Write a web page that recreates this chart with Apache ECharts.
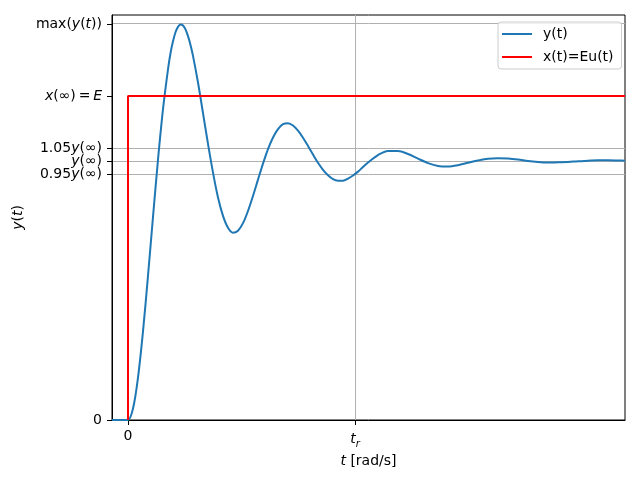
<!DOCTYPE html>
<html><head><meta charset="utf-8">
<script src="https://cdn.jsdelivr.net/npm/echarts@6/dist/echarts.min.js"></script>
<style>html,body{margin:0;padding:0;background:#fff}#c{width:640px;height:480px}</style>
</head><body><div id="c"></div>
<script>
// ---- data (y normalised so that y(inf)=1; t in arbitrary units) ----
const tMin = -1.6, tMax = 49.7;
const tR = 22.7;
const E = 1.251;
const yMax = 1.529;
const yTicks = [0, 0.95, 1, 1.05, E, yMax];
const yTickLabels = ['{n|0}', '{n|0.95}{i|y}{n|(∞)}', '{i|y}{n|(∞)}', '{n|1.05}{i|y}{n|(∞)}', '{i|x}{n|(∞)\u2009=\u2009}{i|E}', '{n|max(}{i|y}{n|(}{i|t}{n|))}'];
const xTicks = [0, tR];
const xTickLabels = ['{n|0}', '{i|t}{sub|r}'];
const respT = [-1.6,-0.8,0,0.5,1.0,1.5,2.0,2.5,3.0,3.5,4.0,4.25,4.5,4.75,5.0,5.25,5.5,5.75,6.0,6.25,6.5,7.0,7.5,8.0,8.5,9.0,9.5,10.0,10.5,11.0,11.5,12.0,12.5,13.0,13.5,14.0,14.5,15.0,15.5,16.0,16.5,17.0,17.5,18.0,18.5,19.0,19.5,20.0,20.5,21.0,21.5,22.0,22.5,23.0,23.5,24.0,25,26,27,28,29,30,31,32,33,34,35,36,37,38,39,40,41,42,43,44,45,46,47,48,49,49.7];
const respY = [0,0,0,0.044,0.164,0.342,0.557,0.784,1.005,1.200,1.354,1.416,1.462,1.497,1.518,1.527,1.523,1.508,1.482,1.448,1.406,1.303,1.185,1.066,0.955,0.859,0.788,0.742,0.723,0.731,0.760,0.807,0.865,0.928,0.990,1.046,1.091,1.123,1.142,1.146,1.137,1.117,1.090,1.058,1.025,0.993,0.966,0.945,0.930,0.924,0.924,0.932,0.944,0.959,0.977,0.994,1.023,1.039,1.039,1.027,1.009,0.992,0.981,0.979,0.984,0.993,1.002,1.009,1.011,1.010,1.006,1.000,0.996,0.994,0.995,0.996,0.999,1.001,1.003,1.003,1.002,1.001];
const stepT = [0, 0, tMax];
const stepY = [0, E, E];

const FONT = 'DejaVu Sans';
const FS = 14;
const rich = {
  n: {fontFamily: FONT, fontSize: FS, color: '#000'},
  i: {fontFamily: FONT, fontSize: FS, fontStyle: 'italic', color: '#000'},
  sub: {fontFamily: FONT, fontSize: 10, fontStyle: 'italic', color: '#000', verticalAlign: 'top', padding: [10, 0, 0, 0]}
};
const gridLineStyle = {color: '#b0b0b0', width: 1, type: 'solid'};

const chart = echarts.init(document.getElementById('c'), null, {renderer: 'canvas'});
chart.setOption({
  animation: false,
  backgroundColor: '#fff',
  grid: {left: 112, right: 15, top: 15, bottom: 60, show: true, borderColor: '#000', borderWidth: 1, backgroundColor: 'transparent'},
  legend: {
    data: ['y(t)', 'x(t)=Eu(t)'], orient: 'vertical', left: 498, top: 22,
    icon: 'rect', itemWidth: 30, itemHeight: 2, itemGap: 9,
    padding: [5, 8, 5, 4], borderColor: '#cccccc', borderWidth: 1, borderRadius: 3,
    backgroundColor: 'rgba(255,255,255,0.8)',
    textStyle: {fontFamily: FONT, fontSize: FS, color: '#000', padding: [0, 0, 0, 6]}
  },
  xAxis: {
    type: 'value', min: tMin, max: tMax,
    axisLine: {show: true, onZero: false, lineStyle: {color: '#000', width: 1}},
    axisTick: {show: true, customValues: xTicks, length: 5, lineStyle: {color: '#000'}},
    axisLabel: {show: true, customValues: xTicks, margin: 9,
      formatter: v => xTickLabels[xTicks.findIndex(x => Math.abs(x - v) < 1e-6)], rich: rich},
    splitLine: {show: false},
    name: '{i|t}{n| [rad/s]}', nameLocation: 'middle', nameGap: 34,
    nameTextStyle: {rich: rich}
  },
  yAxis: {
    type: 'value', min: 0, max: 1.5637,
    axisLine: {show: true, onZero: false, lineStyle: {color: '#000', width: 1}},
    axisTick: {show: true, customValues: yTicks, length: 5, lineStyle: {color: '#000'}},
    axisLabel: {show: true, customValues: yTicks, margin: 10,
      formatter: v => yTickLabels[yTicks.findIndex(x => Math.abs(x - v) < 1e-6)], rich: rich},
    splitLine: {show: false},
    name: '{i|y}{n|(}{i|t}{n|)}', nameLocation: 'middle', nameGap: 82, nameRotate: 90,
    nameTextStyle: {rich: rich}
  },
  series: [
    {
      name: 'grid', type: 'line', data: [], silent: true, z: 1,
      markLine: {
        silent: true, z: 0, symbol: 'none', label: {show: false}, animation: false,
        lineStyle: gridLineStyle,
        data: [{xAxis: tR}].concat([0.95, 1, 1.05, yMax].map(v => ({yAxis: v})))
      }
    },
    {
      name: 'y(t)', type: 'line', z: 3, showSymbol: false, symbol: 'none', smooth: 0.3,
      data: respT.map((t, k) => [t, respY[k]]),
      lineStyle: {color: '#1f77b4', width: 2}, itemStyle: {color: '#1f77b4'}
    },
    {
      name: 'x(t)=Eu(t)', type: 'line', z: 4, showSymbol: false, symbol: 'none',
      data: stepT.map((t, k) => [t, stepY[k]]),
      lineStyle: {color: '#ff0000', width: 2}, itemStyle: {color: '#ff0000'}
    }
  ]
});
</script></body></html>
